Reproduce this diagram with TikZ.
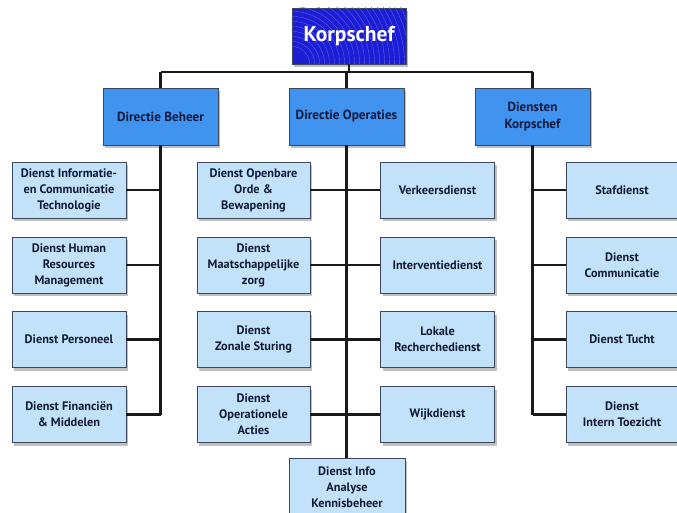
\documentclass[tikz,border=0pt]{standalone}
\usepackage{fontspec}
\setmainfont{PT Sans}
\usetikzlibrary{shadows}
\definecolor{korpblue}{RGB}{28,30,214}
\definecolor{dirblue}{RGB}{64,148,240}
\definecolor{svcblue}{RGB}{194,226,250}
\definecolor{boxline}{RGB}{60,72,90}
\definecolor{txtnavy}{RGB}{18,26,60}
\definecolor{conn}{RGB}{25,25,25}
\tikzset{
  base/.style={draw=boxline, line width=0.7pt, align=center, inner sep=1pt,
    font=\bfseries\fontsize{12.3}{16}\selectfont, text=txtnavy,
    drop shadow={shadow xshift=2pt, shadow yshift=-3pt, opacity=0.35, fill=black!70}},
  topbox/.style={base, fill=korpblue, text=white, minimum width=114pt, minimum height=56pt},
  dirbox/.style={base, fill=dirblue, minimum width=115pt, minimum height=57pt,
    font=\bfseries\fontsize{13.2}{16.5}\selectfont},
  svcbox/.style={base, fill=svcblue, minimum width=114pt, minimum height=56pt},
  link/.style={draw=conn, line width=2.3pt}
}
\begin{document}
\begin{tikzpicture}[x=1pt,y=-1pt]
\useasboundingbox (0,0) rectangle (677,512);
\clip (0,0) rectangle (677,512);
\fill[white] (0,0) rectangle (677,512);

\coordinate (hl) at (160.5,72);
\coordinate (hr) at (532.5,72);

\node[topbox] (K) at (349,36) {};
\begin{scope}
\clip (K.south west) rectangle (K.north east);
\foreach \r in {18,23,...,125}{
  \draw[white!28!korpblue, line width=0.4pt] (K.south west) ++(\r,0) arc (0:-90:\r);
}
\end{scope}
\node[font=\bfseries\fontsize{21.5}{24}\selectfont, text=white] at (K.center) {Korpschef};

\node[dirbox] (DB) at (160.5,116.5) {Directie Beheer};
\node[dirbox] (DO) at (346.5,116.5) {Directie Operaties};
\node[dirbox] (DK) at (532.5,116.5) {Diensten\\Korpschef};

\node[svcbox] (L1) at (69,190) {Dienst Informatie-\\en Communicatie\\Technologie};
\node[svcbox] (L2) at (69,265) {Dienst Human\\Resources\\Management};
\node[svcbox] (L3) at (69,339.5) {Dienst Personeel};
\node[svcbox] (L4) at (69,414.5) {Dienst Financiën\\\& Middelen};

\node[svcbox, minimum width=113pt] (M1) at (253.5,190) {Dienst Openbare\\Orde \&\\Bewapening};
\node[svcbox, minimum width=113pt] (M2) at (253.5,265) {Dienst\\Maatschappelijke\\zorg};
\node[svcbox, minimum width=113pt] (M3) at (253.5,339.5) {Dienst\\Zonale Sturing};
\node[svcbox, minimum width=113pt] (M4) at (253.5,414.5) {Dienst\\Operationele\\Acties};

\node[svcbox] (N1) at (437.5,190) {Verkeersdienst};
\node[svcbox] (N2) at (437.5,265) {Interventiedienst};
\node[svcbox] (N3) at (437.5,339.5) {Lokale\\Recherchedienst};
\node[svcbox] (N4) at (437.5,414.5) {Wijkdienst};

\node[svcbox, minimum width=112pt] (R1) at (622,190) {Stafdienst};
\node[svcbox, minimum width=112pt] (R2) at (622,265) {Dienst\\Communicatie};
\node[svcbox, minimum width=112pt] (R3) at (622,339.5) {Dienst Tucht};
\node[svcbox, minimum width=112pt] (R4) at (622,414.5) {Dienst\\Intern Toezicht};

\node[svcbox, minimum width=116pt, minimum height=58pt, anchor=north] (B) at (347,458) {Dienst Info\\Analyse\\Kennisbeheer};

% connectors
\draw[link] (hl) -- (hr);
\draw[link] (K.south) -- (K.south |- hl);
\draw[link] (hl) -- (DB.north);
\draw[link] (hr) -- (DK.north);
\draw[link] (DO.north) -- (DO.north |- hl);
\draw[link] (DB.south) -- (DB.south |- L4.east);
\foreach \n in {L1,L2,L3,L4} \draw[link] (\n.east) -- (\n.east -| DB.south);
\draw[link] (DO.south) -- (DO.south |- B.north);
\foreach \n in {M1,M2,M3,M4} \draw[link] (\n.east) -- (\n.east -| DO.south);
\foreach \n in {N1,N2,N3,N4} \draw[link] (\n.west) -- (\n.west -| DO.south);
\draw[link] (DK.south) -- (DK.south |- R4.west);
\foreach \n in {R1,R2,R3,R4} \draw[link] (\n.west) -- (\n.west -| DK.south);
\end{tikzpicture}
\end{document}
